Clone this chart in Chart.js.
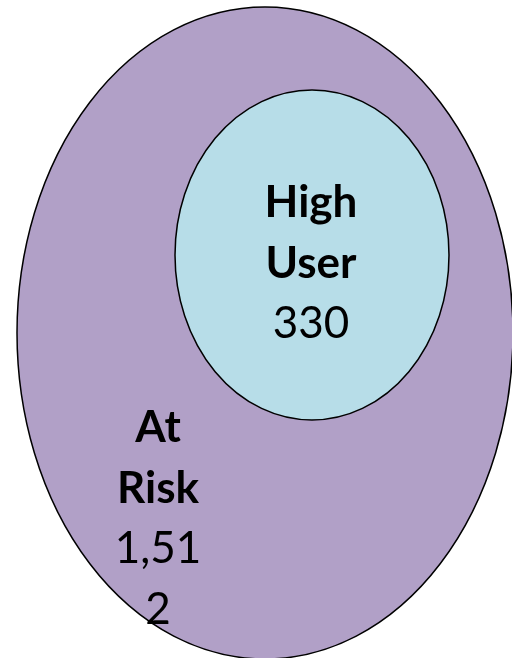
<!DOCTYPE html>
<html>
<head>
<meta charset="utf-8">
<script src="https://cdn.jsdelivr.net/npm/chart.js@4"></script>
<style>
  html, body { margin: 0; padding: 0; background: #fff; }
  #wrap { width: 512px; height: 658px; }
</style>
</head>
<body>
<div id="wrap"><canvas id="venn"></canvas></div>
<script>
// data
const categories = ['At Risk', 'High User'];
const counts = [1512, 330];

// layout (pixels in a 512 x 658 frame)
const centersX = [265, 312];
const centersY = [333, 255];
const radiiX = [248, 137];
const radiiY = [326, 165];
const labelX = [158, 311];
const labelTop = [442, 217];
const fills = ['#b1a0c7', '#b7dde8'];

function wrapChars(ctx, text, maxW) {
    const lines = [];
    let cur = '';
    for (const ch of text) {
        if (cur && ctx.measureText(cur + ch).width > maxW) {
            lines.push(cur);
            cur = ch;
        } else {
            cur += ch;
        }
    }
    if (cur) lines.push(cur);
    return lines;
}

const vennPlugin = {
    id: 'venn',
    beforeDatasetsDraw(chart) {
        const ctx = chart.ctx;
        const xs = chart.scales.x, ys = chart.scales.y;
        const meta = chart.getDatasetMeta(0);
        meta.data.forEach((pt, i) => {
            const rx = Math.abs(xs.getPixelForValue(radiiX[i]) - xs.getPixelForValue(0));
            const ry = Math.abs(ys.getPixelForValue(radiiY[i]) - ys.getPixelForValue(0));
            ctx.save();
            ctx.beginPath();
            ctx.ellipse(pt.x, pt.y, rx, ry, 0, 0, Math.PI * 2);
            ctx.fillStyle = fills[i];
            ctx.fill();
            ctx.lineWidth = 1.5;
            ctx.strokeStyle = '#000';
            ctx.stroke();
            ctx.restore();
        });
    },
    afterDatasetsDraw(chart) {
        const ctx = chart.ctx;
        const xs = chart.scales.x, ys = chart.scales.y;
        const lineH = 60.5;
        categories.forEach((name, i) => {
            const cx = xs.getPixelForValue(labelX[i]);
            let y = ys.getPixelForValue(labelTop[i]);
            ctx.save();
            ctx.fillStyle = '#000';
            ctx.textAlign = 'center';
            ctx.textBaseline = 'alphabetic';
            ctx.font = 'bold 44px Lato';
            name.split(' ').forEach(w => { ctx.fillText(w, cx, y); y += lineH; });
            ctx.font = '44px Lato';
            const valText = counts[i].toLocaleString('en-US');
            wrapChars(ctx, valText, 95).forEach(l => { ctx.fillText(l, cx, y); y += lineH; });
            ctx.restore();
        });
    }
};

new Chart(document.getElementById('venn'), {
    type: 'scatter',
    data: {
        datasets: [{
            label: 'Groups',
            data: categories.map((c, i) => ({ x: centersX[i], y: centersY[i] })),
            pointRadius: 0,
            pointHoverRadius: 0
        }]
    },
    options: {
        responsive: true,
        maintainAspectRatio: false,
        animation: false,
        layout: { padding: 0 },
        plugins: { legend: { display: false }, tooltip: { enabled: false } },
        scales: {
            x: { type: 'linear', min: 0, max: 512, display: false },
            y: { type: 'linear', min: 0, max: 658, reverse: true, display: false }
        }
    },
    plugins: [vennPlugin]
});
</script>
</body>
</html>
